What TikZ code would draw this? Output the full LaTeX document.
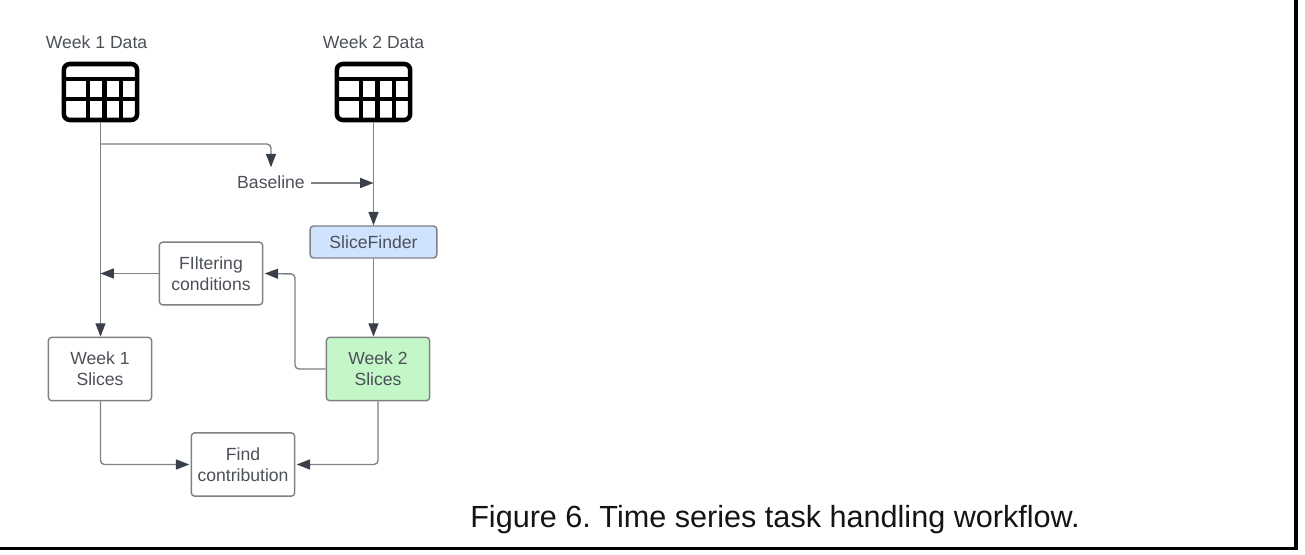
\documentclass[tikz,border=0pt]{standalone}
\usepackage{fontspec}
\setmainfont{Liberation Sans}
\usetikzlibrary{arrows.meta}
\definecolor{inktext}{HTML}{4C5058}
\definecolor{inkline}{HTML}{7E8084}
\definecolor{inkhead}{HTML}{3A404A}
\definecolor{bluefill}{HTML}{CFE3FF}
\definecolor{greenfill}{HTML}{C3F7C8}
\tikzset{
  flowbox/.style={draw=inkline,line width=1.05pt,rounded corners=2.5pt,inner sep=0pt,align=center,
    text=inktext,font=\fontsize{13.2}{16}\selectfont,fill=white},
  smalllabel/.style={text=inktext,font=\fontsize{13.2}{15}\selectfont,inner sep=0pt},
  link/.style={draw=inkline,line width=1.05pt,rounded corners=3pt},
  arrowlink/.style={link,-{Triangle[length=10pt,width=7.5pt,color=inkhead]}},
  iconbox/.style={draw=black,line width=3.4pt,rounded corners=4.5pt,inner sep=0pt,minimum width=55pt,minimum height=42pt},
  iconline/.style={draw=black,line width=3.4pt},
}
\begin{document}
\frenchspacing
\begin{tikzpicture}[x=0.75pt,y=-0.75pt]
\useasboundingbox (0,0) rectangle (1305,555);
\draw[black,line width=2.6pt] (0,548.5) -- (1296,548.5) -- (1296,0);

\node[smalllabel] (w1label) at (96.5,42.5) {Week 1 Data};
\node[smalllabel] (w2label) at (373.5,42.5) {Week 2 Data};

\node[iconbox] (w1icon) at (100.5,92) {};
\node[iconbox] (w2icon) at (373.5,92) {};
\foreach \ic/\ox in {w1icon/0,w2icon/273}{
  \draw[iconline] (\ic.west |- 0,79) -- (\ic.east |- 0,79);
  \draw[iconline] (\ic.west |- 0,99) -- (\ic.east |- 0,99);
  \draw[iconline] (88+\ox,79) -- (88+\ox,120);
  \draw[iconline] (104.5+\ox,79) -- (104.5+\ox,120);
  \draw[iconline] (121+\ox,79) -- (121+\ox,120);
}

\node[smalllabel] (base) at (271,182) {Baseline};
\node[flowbox,fill=bluefill,minimum width=95pt,minimum height=24pt] (sf) at (373.5,242) {SliceFinder};
\node[flowbox,minimum width=77.5pt,minimum height=47pt] (filt) at (211,273.5) {FIltering\\conditions};
\node[flowbox,minimum width=77.5pt,minimum height=47.5pt] (w1s) at (100,369) {Week 1\\Slices};
\node[flowbox,fill=greenfill,minimum width=77.5pt,minimum height=47.5pt] (w2s) at (378,369) {Week 2\\Slices};
\node[flowbox,minimum width=77.5pt,minimum height=47.5pt] (find) at (243,464.5) {Find\\contribution};

\coordinate (w1drop) at (w1icon.south);
\coordinate (basein) at (373.5,183);
\draw[arrowlink] (w1drop) -- (w1drop |- w1s.north);
\draw[arrowlink] (w1drop |- 0,144) -- (base.north |- 0,144) -- ([yshift=6pt]base.north);
\draw[arrowlink] ([xshift=4.5pt]base.east |- basein) -- (basein);
\draw[arrowlink] (w2icon.south) -- (sf.north);
\draw[arrowlink] (sf.south) -- (sf.south |- w2s.north);
\draw[arrowlink] (filt.west) -- (w1drop |- filt.west);
\draw[arrowlink] (w2s.west) -- (295,369) -- (295,274) -- ([xshift=1pt]filt.east);
\draw[arrowlink] (w1drop |- w1s.south) -- (w1drop |- find.west) -- ([xshift=-1pt]find.west);
\draw[arrowlink] (w2s.south) -- (w2s.south |- find.east) -- ([xshift=1pt]find.east);

\node[anchor=west,inner sep=0pt,text=black!92,font=\fontsize{22.95}{28}\selectfont] (cap) at (470,520) {Figure 6. Time series task handling workflow.};
\end{tikzpicture}
\end{document}
